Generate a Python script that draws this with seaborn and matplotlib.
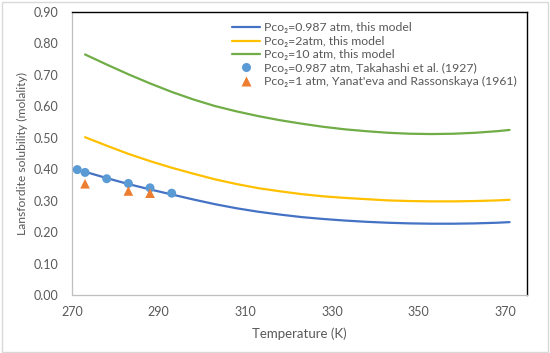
import numpy as np
import pandas as pd
import matplotlib
matplotlib.use("Agg")
import matplotlib.pyplot as plt
import seaborn as sns
from matplotlib.patches import Rectangle
from matplotlib.lines import Line2D

# ---- data ----
T_model = [273, 278, 283, 288, 293, 298, 303, 308, 313, 318, 323, 328, 333,
           338, 343, 348, 353, 358, 363, 368, 371]
s_0987 = [0.392, 0.372, 0.353, 0.336, 0.320, 0.304, 0.289, 0.276, 0.265, 0.256,
          0.248, 0.242, 0.237, 0.233, 0.230, 0.228, 0.227, 0.227, 0.228, 0.230, 0.232]
s_2 = [0.502, 0.475, 0.449, 0.426, 0.405, 0.386, 0.368, 0.353, 0.340, 0.330,
       0.321, 0.314, 0.309, 0.305, 0.301, 0.299, 0.298, 0.298, 0.299, 0.301, 0.303]
s_10 = [0.765, 0.733, 0.702, 0.673, 0.646, 0.622, 0.601, 0.584, 0.569, 0.556,
        0.545, 0.535, 0.527, 0.521, 0.516, 0.513, 0.512, 0.513, 0.516, 0.521, 0.525]

T_taka = [271.2, 273, 278, 283, 288, 293]
s_taka = [0.399, 0.390, 0.370, 0.355, 0.341, 0.324]
T_yan = [273, 283, 288]
s_yan = [0.354, 0.331, 0.324]

labels = ["Pco\u2082=0.987 atm, this model",
          "Pco\u2082=2atm, this model",
          "Pco\u2082=10 atm, this model",
          "Pco\u2082=0.987 atm, Takahashi et al. (1927)",
          "Pco\u2082=1 atm, Yanat'eva and Rassonskaya (1961)"]
x_ticks = [270, 290, 310, 330, 350, 370]
y_ticks = [0.0, 0.1, 0.2, 0.3, 0.4, 0.5, 0.6, 0.7, 0.8, 0.9]

sns.set_style("white")
plt.rcParams['font.family'] = ['Lato', 'DejaVu Sans']
TXT = '#595959'

fig = plt.figure(figsize=(5.5, 3.53), dpi=100)
ax = fig.add_axes([0.131, 0.164, 0.827, 0.802])

df_lines = pd.DataFrame({
    "T": T_model * 3,
    "s": s_0987 + s_2 + s_10,
    "series": [labels[0]] * len(T_model) + [labels[1]] * len(T_model) + [labels[2]] * len(T_model),
})
line_colors = {labels[0]: '#4472C4', labels[1]: '#FFC000', labels[2]: '#70AD47'}
sns.lineplot(data=df_lines, x="T", y="s", hue="series", palette=line_colors,
             linewidth=1.6, ax=ax, legend=False, sort=True)

df_t = pd.DataFrame({"T": T_taka, "s": s_taka})
sns.scatterplot(data=df_t, x="T", y="s", color='#5B9BD5', marker='o', s=42,
                edgecolor='none', ax=ax, zorder=5)
df_y = pd.DataFrame({"T": T_yan, "s": s_yan})
sns.scatterplot(data=df_y, x="T", y="s", color='#ED7D31', marker='^', s=48,
                edgecolor='none', ax=ax, zorder=5)

ax.set_xlim(270, 375)
ax.set_ylim(0, 0.9)
ax.set_xticks(x_ticks)
ax.set_yticks(y_ticks)
ax.set_yticklabels([f"{v:.2f}" for v in y_ticks])
ax.tick_params(axis='y', length=0, labelsize=9, labelcolor=TXT, pad=10)
ax.tick_params(axis='x', length=0, labelsize=9, labelcolor=TXT, pad=8)
ax.set_xlabel("Temperature (K)", fontsize=9.5, color=TXT, labelpad=7)
ax.set_ylabel("Lansfordite solubility (molality)", fontsize=8.7, color=TXT, labelpad=4)

for side in ['left', 'bottom']:
    ax.spines[side].set_color('#BFBFBF')
    ax.spines[side].set_linewidth(0.9)
for side in ['top', 'right']:
    ax.spines[side].set_color('black')
    ax.spines[side].set_linewidth(1.0)
    ax.spines[side].set_visible(True)

handles = [
    Line2D([], [], color='#4472C4', lw=1.6),
    Line2D([], [], color='#FFC000', lw=1.6),
    Line2D([], [], color='#70AD47', lw=1.6),
    Line2D([], [], color='#5B9BD5', marker='o', ls='none', markersize=6.5, markeredgecolor='none'),
    Line2D([], [], color='#ED7D31', marker='^', ls='none', markersize=7, markeredgecolor='none'),
]
leg = ax.legend(handles, labels, loc='upper right', bbox_to_anchor=(1.0, 1.0),
                frameon=False, fontsize=8.8, labelcolor=TXT, handlelength=2.3,
                handletextpad=0.3, labelspacing=0.2, borderaxespad=0.45)

fig.patches.append(Rectangle((0.003, 0.004), 0.994, 0.99, transform=fig.transFigure,
                             fill=False, edgecolor='#D9D9D9', linewidth=1.0))

fig.savefig("out.png", dpi=100)
